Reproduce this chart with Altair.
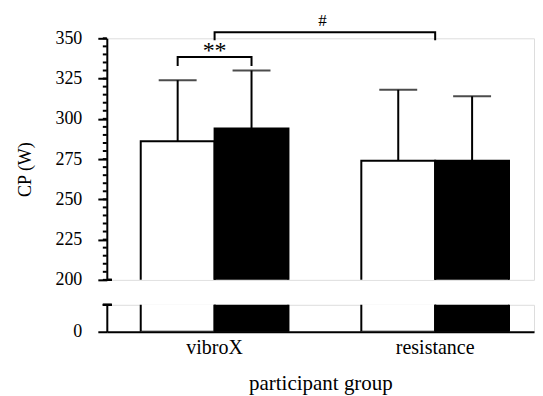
import altair as alt
import pandas as pd

groups = ["vibroX", "resistance"]
conditions = ["pre", "post"]          # white bars, black bars
bar_group = ["vibroX", "vibroX", "resistance", "resistance"]
bar_cond = ["pre", "post", "pre", "post"]
cp_mean = [286, 294, 274, 274]
cp_upper = [324, 330, 318, 314]

major_ticks = [200, 225, 250, 275, 300, 325, 350]
minor_ticks = list(range(200, 351, 5))

# ** bracket (within vibroX) and # bracket (between groups)
star_cond = ["pre", "pre", "post", "post"]
star_y = [332.8, 338.4, 338.4, 332.8]
hash_group = ["vibroX", "vibroX", "resistance", "resistance"]
hash_y = [348.8, 353.7, 353.7, 348.8]

FONT = "Liberation Serif"

df = pd.DataFrame({"group": bar_group, "cond": bar_cond,
                   "mean": cp_mean, "upper": cp_upper})
df_star = pd.DataFrame({"group": ["vibroX"] * 4, "cond": star_cond,
                        "y": star_y, "ord": [0, 1, 2, 3]})
df_hash = pd.DataFrame({"group": hash_group, "y": hash_y, "ord": [0, 1, 2, 3]})
df_txt = pd.DataFrame({"group": ["vibroX", "vibroX"], "label": ["**", "#"],
                       "y": [342.3, 360.5]})
df_minor = pd.DataFrame({"v": minor_ticks})

W = 428
xscale = alt.Scale(domain=groups, paddingInner=0.3303, paddingOuter=0.1335, align=0.576)
offscale = alt.Scale(domain=conditions, paddingInner=0, paddingOuter=0)
fill = alt.Fill("cond:N", scale=alt.Scale(domain=conditions, range=["white", "black"]), legend=None)

ytop = alt.Scale(domain=[200, 350], nice=False, zero=False)

ytop_axis = alt.Axis(
    values=major_ticks, tickSize=9, labelPadding=16, grid=False,
    domainWidth=2, tickWidth=2, domainColor="black", tickColor="black",
    labelColor="black", labelFont=FONT, labelFontSize=18,
    title="CP (W)", titleFont=FONT, titleFontSize=18, titleFontWeight="normal",
    titleColor="black", titlePadding=20, titleY=131,
)

base_top = alt.Chart(df)
X = alt.X("group:N", scale=xscale, axis=None)
XO = alt.XOffset("cond:N", scale=offscale)

bars_top = base_top.mark_bar(stroke="black", strokeWidth=2, clip=True).encode(
    x=X, xOffset=XO,
    y=alt.Y("mean:Q", scale=ytop, axis=ytop_axis),
    y2=alt.datum(0),
    fill=fill,
)
err = base_top.mark_rule(color="black", strokeWidth=2).encode(
    x=X, xOffset=XO, y=alt.Y("mean:Q", scale=ytop), y2="upper:Q",
)
caps = base_top.mark_tick(color="black", size=38, thickness=2, orient="horizontal").encode(
    x=X, xOffset=XO, y=alt.Y("upper:Q", scale=ytop),
)
star = alt.Chart(df_star).mark_line(color="black", strokeWidth=2, clip=False).encode(
    x=X, xOffset=XO, y=alt.Y("y:Q", scale=ytop), order="ord:Q",
)
hashb = alt.Chart(df_hash).mark_line(color="black", strokeWidth=2, clip=False).encode(
    x=X, y=alt.Y("y:Q", scale=ytop), order="ord:Q",
)
txt_star = alt.Chart(df_txt).transform_filter("datum.label == '**'").mark_text(
    font=FONT, fontSize=24, color="black", baseline="middle").encode(
    x=X, y=alt.Y("y:Q", scale=ytop), text="label:N",
)
txt_hash = alt.Chart(df_txt).transform_filter("datum.label == '#'").mark_text(
    font=FONT, fontSize=17, color="black", baseline="middle", dx=108).encode(
    x=X, y=alt.Y("y:Q", scale=ytop), text="label:N",
)
minor = alt.Chart(df_minor).mark_rule(color="black", strokeWidth=2).encode(
    x=alt.value(-4), x2=alt.value(0), y=alt.Y("v:Q", scale=ytop),
)
brk_top = alt.Chart(df).mark_rule(color="black", strokeWidth=2).encode(
    x=alt.value(0), x2=alt.value(5), y=alt.datum(200, scale=ytop),
)

top = alt.layer(bars_top, err, caps, star, hashb, txt_star, txt_hash, minor, brk_top).properties(
    width=W, height=242)

ybot = alt.Scale(domain=[0, 20], nice=False)
ybot_axis = alt.Axis(
    values=[0], tickSize=9, labelPadding=16, grid=False, domainWidth=2, tickWidth=2,
    domainColor="black", tickColor="black", labelColor="black",
    labelFont=FONT, labelFontSize=18, title=None,
)
xbot_axis = alt.Axis(
    title="participant group", ticks=False, tickSize=0, labelAngle=0,
    labelFont=FONT, labelFontSize=20, labelColor="black", labelPadding=6,
    titleFont=FONT, titleFontSize=21, titleFontWeight="normal", titleColor="black",
    titlePadding=15, domainWidth=2, domainColor="black",
)
bars_bot = alt.Chart(df).mark_bar(stroke="black", strokeWidth=2, clip=True).encode(
    x=alt.X("group:N", scale=xscale, axis=xbot_axis),
    xOffset=XO,
    y=alt.Y("mean:Q", scale=ybot, axis=ybot_axis),
    y2=alt.datum(0),
    fill=fill,
)
brk_bot = alt.Chart(df).mark_rule(color="black", strokeWidth=2).encode(
    x=alt.value(-4), x2=alt.value(5), y=alt.datum(20, scale=ybot),
)
bottom = alt.layer(bars_bot, brk_bot).properties(width=W, height=27)

chart = alt.vconcat(top, bottom, spacing=13).properties(
    padding={"left": 8, "top": 3, "right": 0, "bottom": 0}
).configure_view(stroke=None).configure(background="white")

chart.save("out.html", embed_options={"renderer": "svg", "actions": False})
